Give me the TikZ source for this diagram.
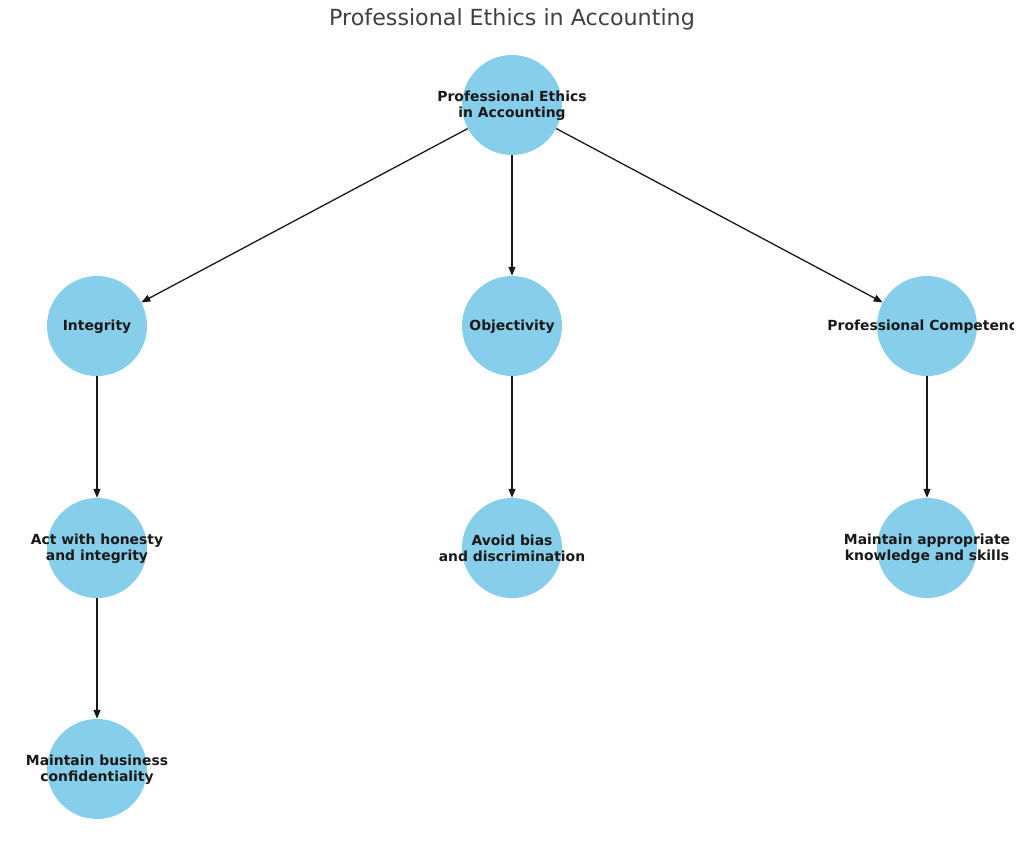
\documentclass[tikz,border=0pt]{standalone}
\usepackage{fontspec}
\setmainfont{DejaVu Sans}
\usetikzlibrary{arrows.meta}
\definecolor{nodeblue}{HTML}{87CEEB}
\definecolor{titlegray}{HTML}{404040}
\begin{document}
\begin{tikzpicture}[x=1bp,y=-1bp,
  disc/.style={circle, fill=nodeblue, minimum size=100bp, inner sep=0pt},
  lbl/.style={align=center, inner sep=0pt,
    font=\fontsize{13.9bp}{16.5bp}\selectfont\bfseries, text=black!90},
  link/.style={-{Triangle[length=9bp,width=7bp]}, line width=1.3bp, black!90}]
\useasboundingbox (0,0) rectangle (1024,849);
\node[font=\fontsize{22.2bp}{26bp}\selectfont, text=titlegray] (title) at (512,19.5) {Professional Ethics in Accounting};
\node[disc] (root) at (512,105) {};
\node[disc] (int) at (97,326) {};
\node[disc] (obj) at (512,326) {};
\node[disc] (comp) at (927,326) {};
\node[disc] (act) at (97,548) {};
\node[disc] (avoid) at (512,548) {};
\node[disc] (know) at (927,548) {};
\node[disc] (conf) at (97,769) {};
\begin{scope}
\clip (0,0) rectangle (1013,849);
\node[lbl] (rootT) at (512,105.5) {Professional Ethics\\in Accounting};
\node[lbl] (intT) at (97,326.5) {Integrity};
\node[lbl] (objT) at (512,326.5) {Objectivity};
\node[lbl] (compT) at (927,326.5) {Professional Competence};
\node[lbl] (actT) at (97,548.5) {Act with honesty\\and integrity};
\node[lbl] (avoidT) at (512,548.5) {Avoid bias\\and discrimination};
\node[lbl] (knowT) at (927,548.5) {Maintain appropriate\\knowledge and skills};
\node[lbl] (confT) at (97,769.5) {Maintain business\\confidentiality};
\end{scope}
\draw[link] (root) -- (int);
\draw[link] (root) -- (obj);
\draw[link] (root) -- (comp);
\draw[link] (int) -- (act);
\draw[link] (act) -- (conf);
\draw[link] (obj) -- (avoid);
\draw[link] (comp) -- (know);
\end{tikzpicture}
\end{document}
